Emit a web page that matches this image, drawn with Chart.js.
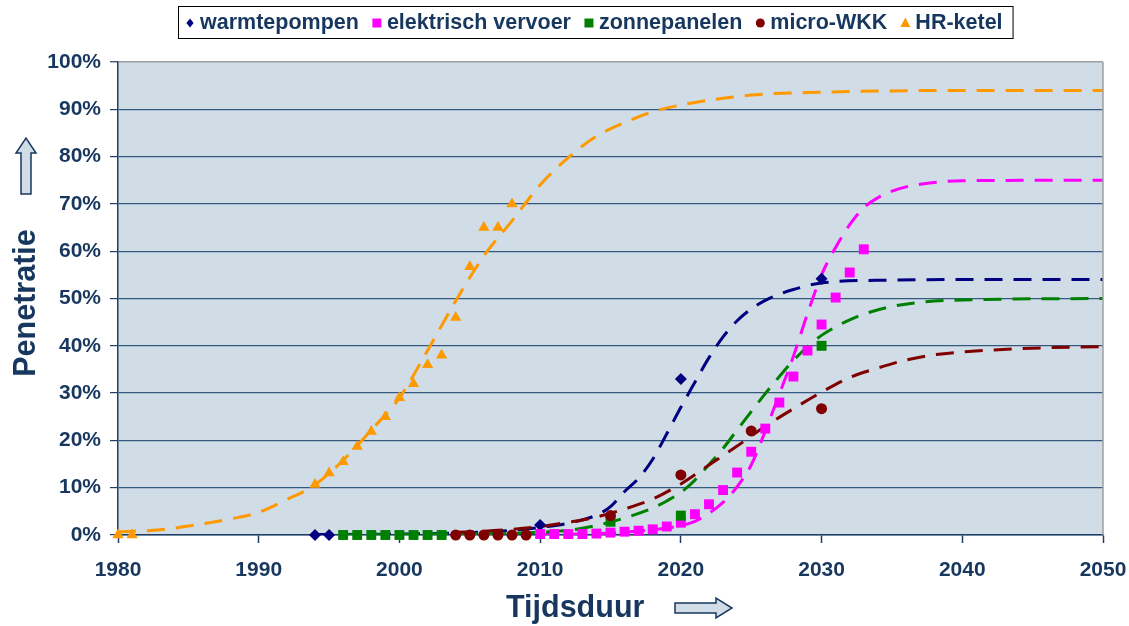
<!DOCTYPE html>
<html>
<head>
<meta charset="utf-8">
<script src="https://cdn.jsdelivr.net/npm/chart.js@4"></script>
<style>
  html, body { margin: 0; padding: 0; background: #ffffff; }
  #wrap { width: 1129px; height: 626px; }
</style>
</head>
<body>
<div id="wrap"><canvas id="c" width="1129" height="626"></canvas></div>
<script>
// ---------- DATA ----------
const seriesNames = ['warmtepompen', 'elektrisch vervoer', 'zonnepanelen', 'micro-WKK', 'HR-ketel'];
const xTicks = [1980, 1990, 2000, 2010, 2020, 2030, 2040, 2050];
const yTicks = [0, 10, 20, 30, 40, 50, 60, 70, 80, 90, 100];

// observed points
const wpYears = [1994, 1995, 2010, 2020, 2030];
const wpVals  = [0, 0, 2.1, 33, 54.2];

const evYears = [2010, 2011, 2012, 2013, 2014, 2015, 2016, 2017, 2018, 2019, 2020, 2021,
                 2022, 2023, 2024, 2025, 2026, 2027, 2028, 2029, 2030, 2031, 2032, 2033];
const evVals  = [0.2, 0.2, 0.2, 0.2, 0.3, 0.5, 0.7, 0.9, 1.2, 1.8, 2.6, 4.4,
                 6.5, 9.5, 13.2, 17.6, 22.5, 28, 33.5, 39, 44.5, 50.2, 55.5, 60.4];

const zpYears = [1996, 1997, 1998, 1999, 2000, 2001, 2002, 2003, 2015, 2020, 2030];
const zpVals  = [0, 0, 0, 0, 0, 0, 0, 0, 2.8, 4.1, 40];

const mwYears = [2004, 2005, 2006, 2007, 2008, 2009, 2015, 2020, 2025, 2030];
const mwVals  = [0, 0, 0, 0, 0, 0, 4.1, 12.7, 22, 26.7];

const hrYears = [1980, 1981, 1994, 1995, 1996, 1997, 1998, 1999, 2000, 2001, 2002, 2003,
                 2004, 2005, 2006, 2007, 2008];
const hrVals  = [0, 0, 10.7, 13.1, 15.5, 18.7, 21.9, 25, 29, 32, 36, 38,
                 46, 56.7, 65, 65, 70];

// fitted trend curves
const wpCurveYears = [1994, 2000, 2005, 2008, 2010, 2012, 2014, 2015, 2016, 2017, 2018, 2019,
                      2020, 2021, 2022, 2023, 2024, 2025, 2026, 2027, 2028, 2030, 2035, 2040, 2050];
const wpCurveVals  = [0.1, 0.2, 0.5, 1.0, 1.6, 2.5, 4.2, 6.0, 9.2, 12.0, 16.0, 21.4,
                      27.0, 32.3, 37.5, 41.9, 45.3, 47.8, 49.6, 50.9, 51.9, 53.3, 53.9, 54, 54];

const evCurveYears = [2010, 2014, 2016, 2018, 2020, 2021, 2022, 2023, 2024, 2025, 2026, 2027,
                      2028, 2029, 2030, 2031, 2032, 2033, 2034, 2035, 2036, 2038, 2040, 2050];
const evCurveVals  = [0.1, 0.3, 0.6, 1.1, 2.0, 2.9, 4.6, 6.9, 10.2, 14.8, 22.0, 29.8,
                      37.8, 46.8, 55.0, 60.8, 65.6, 69.2, 71.3, 72.7, 73.6, 74.5, 74.9, 75];

const zpCurveYears = [1996, 2000, 2005, 2010, 2012, 2014, 2016, 2018, 2019, 2020, 2021, 2022,
                      2023, 2024, 2025, 2026, 2027, 2028, 2029, 2030, 2031, 2032, 2033, 2035,
                      2037, 2040, 2050];
const zpCurveVals  = [0.0, 0.1, 0.25, 0.6, 1.0, 2.0, 3.6, 5.7, 7.2, 9.0, 11.6, 14.9,
                      18.3, 22.2, 26.1, 29.9, 33.5, 36.9, 39.8, 42.2, 44.0, 45.5, 46.7, 48.3,
                      49.2, 49.7, 50];

const mwCurveYears = [2004, 2006, 2008, 2010, 2012, 2014, 2016, 2018, 2020, 2022, 2024, 2026,
                      2028, 2030, 2032, 2034, 2036, 2038, 2040, 2045, 2050];
const mwCurveVals  = [0.6, 0.8, 1.2, 1.8, 2.7, 3.8, 5.5, 7.6, 10.8, 14.8, 18.8, 23.0,
                      26.7, 30.2, 33.3, 35.3, 37.0, 38.1, 38.7, 39.5, 39.8];

const hrCurveYears = [1980, 1983, 1985, 1988, 1990, 1992, 1994, 1996, 1998, 2000, 2002, 2004,
                      2006, 2008, 2010, 2012, 2014, 2016, 2018, 2020, 2025, 2030, 2040, 2050];
const hrCurveVals  = [0.7, 1.1, 1.9, 3.4, 4.8, 7.5, 10.6, 15.8, 22.2, 29.0, 39.0, 49.5,
                      59.0, 66.4, 74.0, 79.8, 84.3, 87.2, 89.5, 90.9, 93.0, 93.6, 94, 94];

// ---------- STYLE ----------
const colors = ['#000080', '#FF00FF', '#008000', '#800000', '#FF9900'];
const pointStyles = ['rectRot', 'rect', 'rect', 'circle', 'triangle'];
const pointRadii = [6, 7, 7, 5.5, 6.5];
const textColor = '#17375E';
const plotBg = '#D0DCE6';

function pts(xs, ys) { return xs.map((x, i) => ({ x: x, y: ys[i] })); }

const curveSets = [
  [wpCurveYears, wpCurveVals], [evCurveYears, evCurveVals], [zpCurveYears, zpCurveVals],
  [mwCurveYears, mwCurveVals], [hrCurveYears, hrCurveVals]
];
const markerSets = [
  [wpYears, wpVals], [evYears, evVals], [zpYears, zpVals], [mwYears, mwVals], [hrYears, hrVals]
];

const datasets = [];
curveSets.forEach((s, i) => {
  datasets.push({
    label: seriesNames[i] + ' trend',
    data: pts(s[0], s[1]),
    showLine: true,
    borderColor: colors[i],
    backgroundColor: colors[i],
    borderWidth: 3,
    borderDash: [18, 11],
    pointRadius: 0,
    pointHoverRadius: 0,
    cubicInterpolationMode: 'monotone',
    fill: false,
    order: 10 - i
  });
});
markerSets.forEach((s, i) => {
  datasets.push({
    label: seriesNames[i],
    data: pts(s[0], s[1]),
    showLine: false,
    clip: false,
    pointStyle: pointStyles[i],
    pointRadius: pointRadii[i],
    pointBorderWidth: 0,
    pointBackgroundColor: colors[i],
    pointBorderColor: colors[i],
    backgroundColor: colors[i],
    borderColor: colors[i],
    order: 5 - i
  });
});

const FONT = '"Liberation Sans", Arial, sans-serif';

function drawMarker(ctx, style, x, y, r, color) {
  ctx.save();
  ctx.fillStyle = color;
  ctx.beginPath();
  if (style === 'rectRot') {
    ctx.moveTo(x, y - r); ctx.lineTo(x + r * 0.8, y); ctx.lineTo(x, y + r); ctx.lineTo(x - r * 0.8, y);
  } else if (style === 'rect') {
    ctx.rect(x - r, y - r, 2 * r, 2 * r);
  } else if (style === 'circle') {
    ctx.arc(x, y, r, 0, Math.PI * 2);
  } else if (style === 'triangle') {
    ctx.moveTo(x, y - r * 1.1); ctx.lineTo(x + r, y + r * 0.8); ctx.lineTo(x - r, y + r * 0.8);
  }
  ctx.closePath();
  ctx.fill();
  ctx.restore();
}

const decorPlugin = {
  id: 'decor',
  beforeDraw(chart) {
    const { ctx, chartArea: a } = chart;
    ctx.save();
    ctx.fillStyle = '#ffffff';
    ctx.fillRect(0, 0, chart.width, chart.height);
    ctx.fillStyle = plotBg;
    ctx.fillRect(a.left, a.top, a.right - a.left, a.bottom - a.top);
    ctx.restore();
  },
  afterDraw(chart) {
    const { ctx, chartArea: a } = chart;
    ctx.save();
    // right border
    ctx.strokeStyle = '#A0A0A0';
    ctx.lineWidth = 1.5;
    ctx.beginPath();
    ctx.moveTo(a.right, a.top); ctx.lineTo(a.right, a.bottom);
    ctx.stroke();

    // legend
    ctx.font = 'bold 21.5px ' + FONT;
    ctx.textBaseline = 'middle';
    ctx.textAlign = 'left';
    const markGap = 14, afterText = 14, padL = 8, padR = 10;
    let widths = seriesNames.map(n => ctx.measureText(n).width);
    let total = widths.reduce((s, w) => s + w + markGap, 0) + afterText * (seriesNames.length - 1);
    const boxW = total + padL + padR;
    const cx = 595;
    const boxL = Math.round(cx - boxW / 2);
    const boxT = 6, boxH = 32;
    ctx.fillStyle = '#ffffff';
    ctx.fillRect(boxL, boxT, boxW, boxH);
    ctx.strokeStyle = '#000000';
    ctx.lineWidth = 1;
    ctx.strokeRect(boxL + 0.5, boxT + 0.5, boxW, boxH);
    let x = boxL + padL;
    const my = boxT + boxH / 2 + 1;
    const legR = [4.5, 4.5, 4.5, 4.5, 5];
    seriesNames.forEach((n, i) => {
      drawMarker(ctx, pointStyles[i], x + 4, my, legR[i], colors[i]);
      ctx.fillStyle = textColor;
      ctx.fillText(n, x + markGap, my);
      x += markGap + widths[i] + afterText;
    });

    // axis titles
    ctx.fillStyle = textColor;
    ctx.font = 'bold 30.5px ' + FONT;
    ctx.textBaseline = 'alphabetic';
    ctx.textAlign = 'left';
    ctx.fillText('Tijdsduur', 506, 617);
    ctx.save();
    ctx.translate(35, 303);
    ctx.rotate(-Math.PI / 2);
    ctx.textAlign = 'center';
    ctx.fillText('Penetratie', 0, 0);
    ctx.restore();

    // arrows
    ctx.fillStyle = plotBg;
    ctx.strokeStyle = textColor;
    ctx.lineWidth = 1.5;
    ctx.beginPath(); // right arrow
    ctx.moveTo(675, 603); ctx.lineTo(716, 603); ctx.lineTo(716, 598); ctx.lineTo(732, 608);
    ctx.lineTo(716, 618); ctx.lineTo(716, 613); ctx.lineTo(675, 613); ctx.closePath();
    ctx.fill(); ctx.stroke();
    ctx.beginPath(); // up arrow
    ctx.moveTo(21, 194); ctx.lineTo(21, 153); ctx.lineTo(16, 153); ctx.lineTo(26, 138);
    ctx.lineTo(36, 153); ctx.lineTo(31, 153); ctx.lineTo(31, 194); ctx.closePath();
    ctx.fill(); ctx.stroke();
    ctx.restore();
  }
};

new Chart(document.getElementById('c'), {
  type: 'scatter',
  data: { datasets: datasets },
  options: {
    responsive: false,
    animation: false,
    devicePixelRatio: 1,
    layout: { padding: { left: 0, right: 26, top: 62, bottom: 0 } },
    plugins: { legend: { display: false }, tooltip: { enabled: false } },
    scales: {
      x: {
        type: 'linear',
        min: 1980, max: 2050,
        afterFit(scale) { scale.height = 91; scale.paddingRight = 0; scale.paddingLeft = 0; },
        afterBuildTicks(scale) { scale.ticks = xTicks.map(v => ({ value: v })); },
        grid: { drawOnChartArea: false, drawTicks: true, tickLength: 8, tickColor: '#1F3F66', tickWidth: 1.5 },
        border: { display: true, color: '#1F3F66', width: 1.5 },
        ticks: { color: textColor, font: { family: FONT, size: 21, weight: 'bold' }, padding: 15, maxRotation: 0,
                 callback: v => String(v) }
      },
      y: {
        min: 0, max: 100,
        afterFit(scale) { scale.width = 118; },
        afterBuildTicks(scale) { scale.ticks = yTicks.map(v => ({ value: v })); },
        grid: {
          drawOnChartArea: true, drawTicks: true, tickLength: 8,
          color: ctx => (ctx.tick && ctx.tick.value === 100) ? '#A0A0A0' : '#34597F',
          lineWidth: ctx => (ctx.tick && ctx.tick.value === 100) ? 1.5 : 1.2,
          tickColor: '#1F3F66', tickWidth: 1.2
        },
        border: { display: true, color: '#1F3F66', width: 1.5 },
        ticks: { color: textColor, font: { family: FONT, size: 21, weight: 'bold' }, padding: 9,
                 callback: v => v + '%' }
      }
    }
  },
  plugins: [decorPlugin]
});
</script>
</body>
</html>
